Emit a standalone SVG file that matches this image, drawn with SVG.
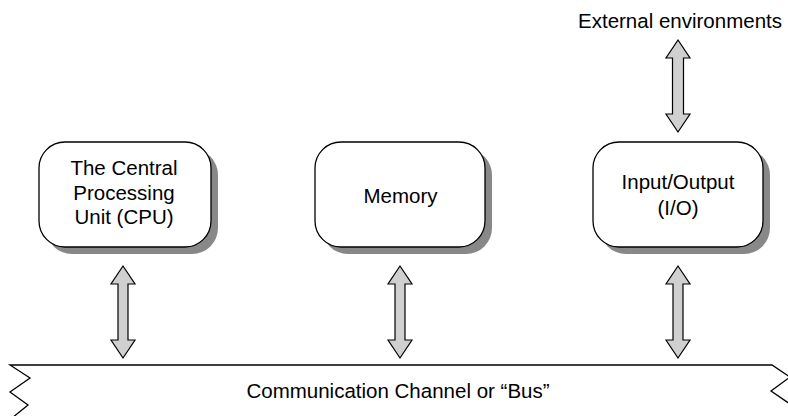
<svg xmlns="http://www.w3.org/2000/svg" width="788" height="416" viewBox="0 0 788 416">
<style>
.t{font-family:"Liberation Sans",Arial,sans-serif;font-size:20.5px;fill:#000;text-anchor:middle}
.box{fill:#fff;stroke:#000;stroke-width:1.3}
.sh{fill:#888}
.arr{fill:#d0d0d0;stroke:#000;stroke-width:1.2;stroke-linejoin:miter}
.bus{fill:none;stroke:#000;stroke-width:1.3}
</style>
<rect width="788" height="416" fill="#fff"/>
<g id="cpu">
<rect class="sh" x="46" y="149" width="172" height="105" rx="26"/>
<rect class="box" x="39" y="142" width="172" height="105" rx="26"/>
<text class="t" x="124" y="175">The Central</text>
<text class="t" x="124" y="199.6">Processing</text>
<text class="t" x="124" y="224.3">Unit (CPU)</text>
</g>
<g id="memory">
<rect class="sh" x="322" y="149" width="170" height="105" rx="26"/>
<rect class="box" x="315" y="142" width="170" height="105" rx="26"/>
<text class="t" x="400.5" y="202.5">Memory</text>
</g>
<g id="io">
<rect class="sh" x="600" y="149" width="170" height="105" rx="26"/>
<rect class="box" x="593" y="142" width="170" height="105" rx="26"/>
<text class="t" x="678" y="189.3">Input/Output</text>
<text class="t" x="678" y="214.5">(I/O)</text>
</g>
<g id="external">
<text class="t" x="680" y="28">External environments</text>
</g>
<g id="bus">
<path class="bus" d="M12,418 L28,405 L10,392 L30,378 L10,365 L772,365 L790,377 L771,391 L790,404"/>
<text class="t" x="398" y="398.3">Communication Channel or “Bus”</text>
</g>
<g id="connectors">
<path class="arr" d="M678,40 L690,58 L683.5,58 L683.5,114 L690,114 L678,132 L666,114 L672.5,114 L672.5,58 L666,58 Z"/>
<path class="arr" d="M123,266 L135,284 L128,284 L128,340 L135,340 L123,358 L111,340 L118,340 L118,284 L111,284 Z"/>
<path class="arr" d="M400,266 L412,284 L405,284 L405,340 L412,340 L400,358 L388,340 L395,340 L395,284 L388,284 Z"/>
<path class="arr" d="M678,266 L690,284 L683,284 L683,340 L690,340 L678,358 L666,340 L673,340 L673,284 L666,284 Z"/>
</g>
</svg>
